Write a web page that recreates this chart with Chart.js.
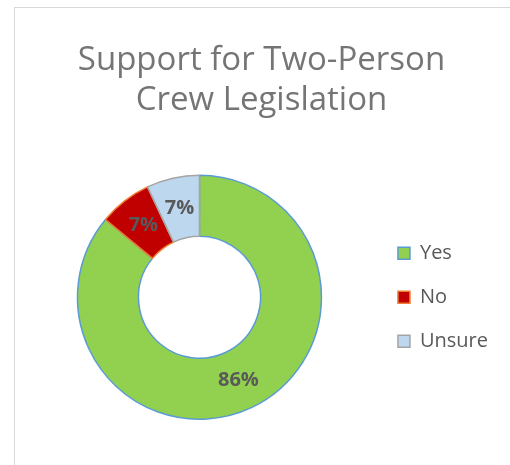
<!DOCTYPE html>
<html>
<head>
<meta charset="utf-8">
<script src="https://cdn.jsdelivr.net/npm/chart.js@4/dist/chart.umd.min.js"></script>
<style>
  body { margin: 0; background: #fff; overflow: hidden; }
  #frame {
    position: absolute; left: 14px; top: 7px;
    width: 496px; height: 458px;
    border-left: 1px solid #d9d9d9; border-top: 1px solid #d9d9d9;
  }
</style>
</head>
<body>
<div id="frame"><canvas id="grafico"></canvas></div>
<script>
const titulo = ['Support for Two-Person', 'Crew Legislation'];
const categorias = ['Yes', 'No', 'Unsure'];
const valores = [86, 7, 7];
const cores = ['#92d050', '#c00000', '#bdd7ee'];
const bordas = ['#5b9bd5', '#ed7d31', '#a5a5a5'];

// rotulos de porcentagem no meio de cada fatia
const rotulos = {
  id: 'rotulos',
  afterDatasetsDraw(chart) {
    const ctx = chart.ctx;
    const meta = chart.getDatasetMeta(0);
    ctx.save();
    ctx.font = 'bold 20px "Open Sans"';
    ctx.fillStyle = '#595959';
    ctx.textAlign = 'center';
    ctx.textBaseline = 'middle';
    meta.data.forEach((arc, i) => {
      const p = arc.tooltipPosition();
      ctx.fillText(valores[i] + '%', p.x, p.y);
    });
    ctx.restore();
  }
};

const ctx = document.getElementById('grafico').getContext('2d');
new Chart(ctx, {
  type: 'doughnut',
  data: {
    labels: categorias,
    datasets: [{
      data: valores,
      backgroundColor: cores,
      borderColor: bordas,
      borderWidth: 1.5
    }]
  },
  options: {
    responsive: true,
    maintainAspectRatio: false,
    animation: false,
    cutout: '50%',
    layout: { padding: { left: 10, right: 13, top: 0, bottom: 46 } },
    plugins: {
      title: {
        display: true,
        text: titulo,
        color: '#757575',
        font: { family: '"Open Sans"', size: 33, weight: 'normal', lineHeight: 1.22 },
        padding: { top: 32, bottom: 54 }
      },
      legend: {
        position: 'right',
        title: {
          display: true,
          text: ' ',
          font: { size: 12, lineHeight: 1.2 },
          padding: { top: 152, bottom: 0 }
        },
        labels: {
          color: '#595959',
          font: { family: '"Open Sans"', size: 20 },
          boxWidth: 12,
          boxHeight: 12,
          padding: 24
        }
      },
      tooltip: { enabled: false }
    }
  },
  plugins: [rotulos]
});
</script>
</body>
</html>
